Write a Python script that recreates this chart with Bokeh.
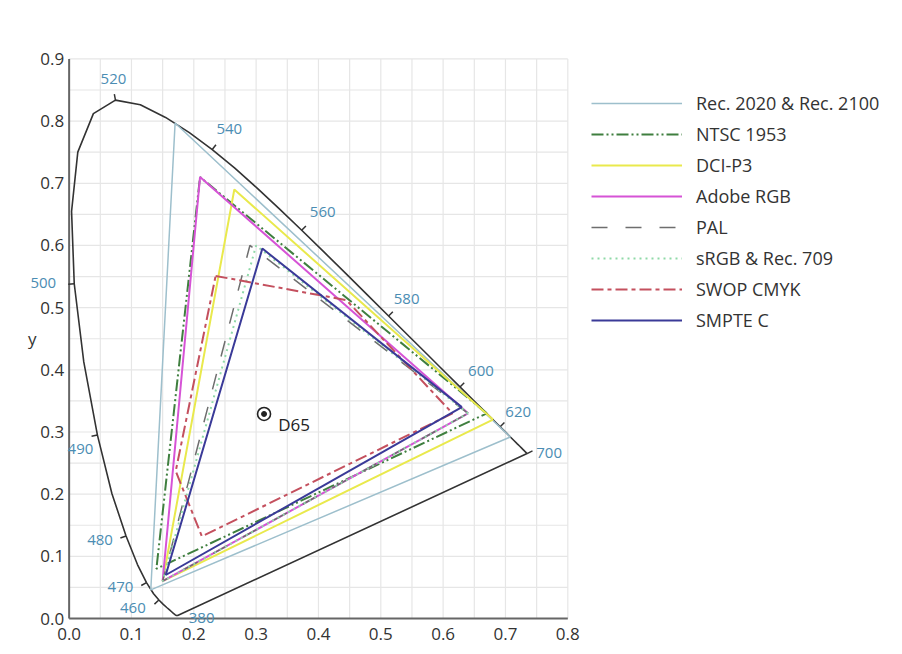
import numpy as np
from bokeh.plotting import figure
from bokeh.models import Legend, LegendItem, ColumnDataSource
from bokeh.core.properties import value
from bokeh.embed import file_html
from bokeh.resources import INLINE

# ---- data ----
# CIE 1931 spectral locus (5 nm steps 380..700)
locus_nm = list(range(380, 701, 5))
locus_x = [0.1741, 0.1740, 0.1738, 0.1736, 0.1733, 0.1730, 0.1726, 0.1721, 0.1714, 0.1703,
           0.1689, 0.1669, 0.1644, 0.1611, 0.1566, 0.1510, 0.1440, 0.1355, 0.1241, 0.1096,
           0.0913, 0.0687, 0.0454, 0.0235, 0.0082, 0.0039, 0.0139, 0.0389, 0.0743, 0.1142,
           0.1547, 0.1929, 0.2296, 0.2658, 0.3016, 0.3373, 0.3731, 0.4087, 0.4441, 0.4788,
           0.5125, 0.5448, 0.5752, 0.6029, 0.6270, 0.6482, 0.6658, 0.6801, 0.6915, 0.7006,
           0.7079, 0.7140, 0.7190, 0.7230, 0.7260, 0.7283, 0.7300, 0.7311, 0.7320, 0.7327,
           0.7334, 0.7340, 0.7344, 0.7346, 0.7347]
locus_y = [0.0050, 0.0050, 0.0049, 0.0049, 0.0048, 0.0048, 0.0048, 0.0048, 0.0051, 0.0058,
           0.0069, 0.0086, 0.0109, 0.0138, 0.0177, 0.0227, 0.0297, 0.0399, 0.0578, 0.0868,
           0.1327, 0.2007, 0.2950, 0.4127, 0.5384, 0.6548, 0.7502, 0.8120, 0.8338, 0.8262,
           0.8059, 0.7816, 0.7543, 0.7243, 0.6923, 0.6589, 0.6245, 0.5896, 0.5547, 0.5202,
           0.4866, 0.4544, 0.4242, 0.3965, 0.3725, 0.3514, 0.3340, 0.3197, 0.3083, 0.2993,
           0.2920, 0.2859, 0.2809, 0.2770, 0.2740, 0.2717, 0.2700, 0.2689, 0.2680, 0.2673,
           0.2666, 0.2660, 0.2656, 0.2654, 0.2653]

label_nm = [380, 460, 470, 480, 490, 500, 520, 540, 560, 580, 600, 620, 700]

gamut_names = ["Rec. 2020 & Rec. 2100", "NTSC 1953", "DCI-P3", "Adobe RGB", "PAL",
               "sRGB & Rec. 709", "SWOP CMYK", "SMPTE C"]
gamut_x = [
    [0.708, 0.170, 0.131],
    [0.670, 0.210, 0.140],
    [0.680, 0.265, 0.150],
    [0.640, 0.210, 0.150],
    [0.640, 0.290, 0.150],
    [0.640, 0.300, 0.150],
    [0.235, 0.445, 0.615, 0.213, 0.171],
    [0.630, 0.310, 0.155],
]
gamut_y = [
    [0.292, 0.797, 0.046],
    [0.330, 0.710, 0.080],
    [0.320, 0.690, 0.060],
    [0.330, 0.710, 0.060],
    [0.330, 0.600, 0.060],
    [0.330, 0.600, 0.060],
    [0.551, 0.512, 0.330, 0.132, 0.237],
    [0.340, 0.595, 0.070],
]
white_name = "D65"
white_x = [0.3127]
white_y = [0.3290]

x_ticks = [0.0, 0.1, 0.2, 0.3, 0.4, 0.5, 0.6, 0.7, 0.8]
x_tick_labels = ["0.0", "0.1", "0.2", "0.3", "0.4", "0.5", "0.6", "0.7", "0.8"]
y_ticks = [0.0, 0.1, 0.2, 0.3, 0.4, 0.5, 0.6, 0.7, 0.8, 0.9]
y_tick_labels = ["0.0", "0.1", "0.2", "0.3", "0.4", "0.5", "0.6", "0.7", "0.8", "0.9"]
x_max, y_max = 0.8, 0.9

# ---- styles ----
gamut_colors = ["#9dbfcc", "#3f7f3f", "#e9e94c", "#d653d6", "#6e6e6e",
                "#8fd9a8", "#c4505e", "#3a3a98"]
gamut_dash = ["solid", "12 3 2 3 2 3", "solid", "solid", "16 18",
              "2 4", "12 4 4 4", "solid"]
gamut_width = [1.5, 2, 2, 2, 1.5, 2, 2, 2]
label_off = {380: (24, 3), 460: (-26, 8), 470: (-26, 4), 480: (-26, 4), 490: (-17, 14),
             500: (-31, -1), 520: (-2, -21), 540: (17, -21), 560: (21, -18),
             580: (18, -17), 600: (21, -16), 620: (18, -15), 700: (22, -1)}
FONT = "Open Sans"
GRID_STEP = 0.05
AXIS_COLOR = "#666666"
TEXT_COLOR = "#333333"

p = figure(frame_width=561, frame_height=600, x_range=(-0.07, 0.83), y_range=(-0.045, 0.92),
           output_backend="svg", toolbar_location=None, y_axis_location=None,
           x_axis_location=None,
           min_border_left=25, min_border_right=20, min_border_top=46,
           min_border_bottom=4)
p.outline_line_color = None
p.background_fill_color = "white"
p.border_fill_color = "white"
p.xgrid.visible = False
p.ygrid.visible = False

# grid (drawn only inside the 0..0.8 x 0..0.9 box)
gx_vals = [round(k * GRID_STEP, 2) for k in range(int(round(x_max / GRID_STEP)) + 1)]
gy_vals = [round(k * GRID_STEP, 2) for k in range(int(round(y_max / GRID_STEP)) + 1)]
p.segment(gx_vals, [0] * len(gx_vals), gx_vals, [y_max] * len(gx_vals),
          line_color="#e6e6e6", line_width=1.2)
p.segment([0] * len(gy_vals), gy_vals, [x_max] * len(gy_vals), gy_vals,
          line_color="#e6e6e6", line_width=1.2)

# axes drawn at x = 0 and y = 0
p.segment([0, 0], [0, 0], [0, x_max], [y_max, 0], line_color=AXIS_COLOR, line_width=2)
p.text([0] * len(y_ticks), y_ticks, text=y_tick_labels, x_offset=-5,
       text_align="right", text_baseline="middle", text_font=value(FONT),
       text_font_size="17px", text_color=TEXT_COLOR)
p.text(x_ticks, [0] * len(x_ticks), text=x_tick_labels, y_offset=15,
       text_align="center", text_baseline="middle", text_font=value(FONT),
       text_font_size="17px", text_color=TEXT_COLOR)
p.text([0], [y_max / 2], text=["y"], x_offset=-37, text_align="center",
       text_baseline="middle", text_font=value(FONT), text_font_size="17px",
       text_color=TEXT_COLOR)

# spectral locus + purple line
lx = np.array(locus_x)
ly = np.array(locus_y)
p.line(list(lx) + [lx[0]], list(ly) + [ly[0]], line_color="#333333", line_width=1.6)

# wavelength tick marks (outward normals)
cx, cy = 0.33, 0.33
sx_scale, sy_scale = 623.3, 621.8
tick_x0, tick_y0, tick_x1, tick_y1 = [], [], [], []
lab_x, lab_y, lab_t, lab_dx, lab_dy = [], [], [], [], []
for nm in label_nm:
    i = locus_nm.index(nm)
    x0, y0 = lx[i], ly[i]
    lab_x.append(x0)
    lab_y.append(y0)
    lab_t.append(str(nm))
    lab_dx.append(label_off[nm][0])
    lab_dy.append(label_off[nm][1])
    if nm == 380:
        continue
    ia, ib = max(i - 1, 0), min(i + 1, len(lx) - 1)
    if nm == 700:
        nx, ny = 0.9, 0.44
    else:
        tx = (lx[ib] - lx[ia]) * sx_scale
        ty = (ly[ib] - ly[ia]) * sy_scale
        n = np.hypot(tx, ty)
        nx, ny = -ty / n, tx / n
        if nx * (x0 - cx) + ny * (y0 - cy) < 0:
            nx, ny = -nx, -ny
    L = 6.0
    tick_x0.append(x0)
    tick_y0.append(y0)
    tick_x1.append(x0 + nx * L / sx_scale)
    tick_y1.append(y0 + ny * L / sy_scale)
p.segment(tick_x0, tick_y0, tick_x1, tick_y1, line_color="#333333", line_width=1.5)

# gamut polygons
items = []
for name, gx, gy, c, d, w in zip(gamut_names, gamut_x, gamut_y, gamut_colors,
                                  gamut_dash, gamut_width):
    r = p.line(list(gx) + [gx[0]], list(gy) + [gy[0]], line_color=c,
               line_dash=d, line_width=w)
    items.append(LegendItem(label=name, renderers=[r]))

# wavelength labels
lab_src = ColumnDataSource(dict(x=lab_x, y=lab_y, t=lab_t, dx=lab_dx, dy=lab_dy))
p.text("x", "y", text="t", x_offset="dx", y_offset="dy", source=lab_src,
       text_align="center", text_baseline="middle", text_font=value(FONT),
       text_font_size="15px", text_color="#4b8db3")

# D65 white point
p.scatter(white_x, white_y, marker="circle", size=13, fill_color=None,
          line_color="#222222", line_width=1.6)
p.scatter(white_x, white_y, marker="circle", size=5, fill_color="#222222",
          line_color="#222222")
p.text(white_x, white_y, text=[white_name], x_offset=30, y_offset=11,
       text_align="center", text_baseline="middle", text_font=value(FONT),
       text_font_size="17px", text_color="#222222")

legend = Legend(items=items, location=(5, 314), orientation="vertical")
legend.label_text_font = FONT
legend.label_text_font_size = "18px"
legend.label_text_color = "#333333"
legend.glyph_width = 91
legend.glyph_height = 20
legend.label_height = 20
legend.label_standoff = 14
legend.spacing = 7
legend.padding = 5
legend.margin = 0
legend.border_line_color = None
legend.background_fill_alpha = 0
p.add_layout(legend, "right")

open("out.html", "w").write(file_html(p, INLINE))
